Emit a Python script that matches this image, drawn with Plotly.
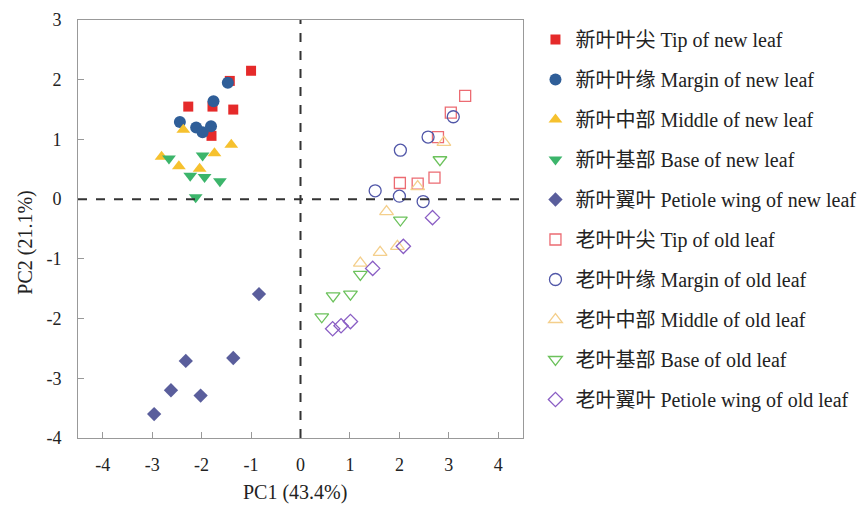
import plotly.graph_objects as go

# ---- data (PC1, PC2) ----
new_tip_x = [-1.00, -1.43, -2.27, -1.78, -1.36, -1.80]
new_tip_y = [2.15, 1.98, 1.55, 1.55, 1.50, 1.06]
new_margin_x = [-1.47, -1.76, -2.44, -2.11, -1.98, -1.81]
new_margin_y = [1.95, 1.64, 1.29, 1.20, 1.12, 1.22]
new_middle_x = [-2.37, -1.40, -1.74, -2.81, -2.46, -2.04]
new_middle_y = [1.16, 0.91, 0.77, 0.71, 0.55, 0.51]
new_base_x = [-2.66, -1.98, -2.23, -1.94, -1.63, -2.12]
new_base_y = [0.68, 0.73, 0.39, 0.37, 0.30, 0.03]
new_wing_x = [-0.84, -2.32, -1.36, -2.62, -2.02, -2.96]
new_wing_y = [-1.59, -2.71, -2.66, -3.20, -3.29, -3.60]

old_tip_x = [3.33, 3.04, 2.78, 2.01, 2.37, 2.71]
old_tip_y = [1.73, 1.45, 1.04, 0.27, 0.26, 0.36]
old_margin_x = [3.09, 2.58, 2.02, 1.51, 2.00, 2.48]
old_margin_y = [1.38, 1.04, 0.82, 0.14, 0.05, -0.04]
old_middle_x = [2.90, 2.37, 1.74, 1.61, 1.21, 1.96]
old_middle_y = [0.95, 0.21, -0.21, -0.89, -1.07, -0.79]
old_base_x = [2.82, 2.02, 1.21, 0.66, 1.01, 0.43]
old_base_y = [0.66, -0.35, -1.26, -1.62, -1.59, -1.97]
old_wing_x = [2.67, 2.08, 1.46, 0.65, 0.82, 1.01]
old_wing_y = [-0.31, -0.79, -1.16, -2.17, -2.12, -2.05]

names = [
    "新叶叶尖 Tip of new leaf",
    "新叶叶缘 Margin of new leaf",
    "新叶中部 Middle of new leaf",
    "新叶基部 Base of new leaf",
    "新叶翼叶 Petiole wing of new leaf",
    "老叶叶尖 Tip of old leaf",
    "老叶叶缘 Margin of old leaf",
    "老叶中部 Middle of old leaf",
    "老叶基部 Base of old leaf",
    "老叶翼叶 Petiole wing of old leaf",
]

x_ticks = [-4, -3, -2, -1, 0, 1, 2, 3, 4]
x_tick_labels = ["-4", "-3", "-2", "-1", "0", "1", "2", "3", "4"]
y_ticks = [-4, -3, -2, -1, 0, 1, 2, 3]
y_tick_labels = ["-4", "-3", "-2", "-1", "0", "1", "2", "3"]
x_title = "PC1 (43.4%)"
y_title = "PC2 (21.1%)"

xs = [new_tip_x, new_margin_x, new_middle_x, new_base_x, new_wing_x,
      old_tip_x, old_margin_x, old_middle_x, old_base_x, old_wing_x]
ys = [new_tip_y, new_margin_y, new_middle_y, new_base_y, new_wing_y,
      old_tip_y, old_margin_y, old_middle_y, old_base_y, old_wing_y]

symbols = ["square", "circle", "triangle-up", "triangle-down", "diamond",
           "square-open", "circle-open", "triangle-up-open", "triangle-down-open", "diamond-open"]
colors = ["#e52a2a", "#2f5e98", "#f6c12e", "#3cb56b", "#5a5e9c",
          "#ec6b72", "#5157a8", "#f4cf8c", "#6cc25c", "#8a5ec4"]
sizes = [10, 12, 12, 12, 11, 11, 12, 12, 12, 11]

FONT = "Liberation Serif, 'Times New Roman', 'Noto Sans CJK SC', serif"
TXT = "#222222"

fig = go.Figure()
for i in range(10):
    open_ = i >= 5
    fig.add_trace(go.Scatter(
        x=xs[i], y=ys[i], mode="markers", name=names[i],
        legendgroup=str(i),
        marker=dict(symbol=symbols[i], color=colors[i], size=sizes[i],
                    line=dict(width=1.3 if open_ else 0, color=colors[i])),
    ))

fig.add_shape(type="line", xref="x", yref="paper", x0=0, x1=0, y0=0, y1=1,
              line=dict(color="#333333", width=2, dash="dash"))
fig.add_shape(type="line", xref="paper", yref="y", x0=0, x1=1, y0=0, y1=0,
              line=dict(color="#333333", width=2, dash="dash"))

axis_common = dict(showgrid=False, zeroline=False, showline=True, linecolor="#999999",
                   linewidth=1, mirror=True, ticks="inside", ticklen=6, tickcolor="#999999",
                   automargin=False,
                   tickfont=dict(family=FONT, size=18, color=TXT))

fig.update_xaxes(range=[-4.5, 4.5], tickmode="array", tickvals=x_ticks, ticktext=x_tick_labels,
                 ticklabelstandoff=10, **axis_common)
fig.update_yaxes(range=[-4, 3], tickmode="array", tickvals=y_ticks, ticktext=y_tick_labels,
                 ticklabelstandoff=12, **axis_common)

# axis titles as annotations for precise placement
fig.add_annotation(text=x_title, xref="paper", yref="paper", x=0.488, y=-0.13,
                   xanchor="center", yanchor="middle", showarrow=False,
                   font=dict(family=FONT, size=20, color=TXT))
fig.add_annotation(text=y_title, xref="paper", yref="paper", x=-0.117, y=0.467,
                   xanchor="center", yanchor="middle", showarrow=False, textangle=-90,
                   font=dict(family=FONT, size=20, color=TXT))

fig.update_layout(
    width=857, height=507,
    margin=dict(l=78, r=334, t=20, b=69, autoexpand=False),
    plot_bgcolor="white", paper_bgcolor="white",
    font=dict(family=FONT, size=20, color=TXT),
    legend=dict(x=1.028, xanchor="left", y=1.0, yanchor="top",
                tracegroupgap=11, font=dict(family=FONT, size=20, color=TXT),
                itemwidth=30, bgcolor="rgba(0,0,0,0)"),
)

fig.write_html("out.html", config={"displayModeBar": False},
               post_script="document.body.style.margin='0';document.body.style.overflow='hidden';")
